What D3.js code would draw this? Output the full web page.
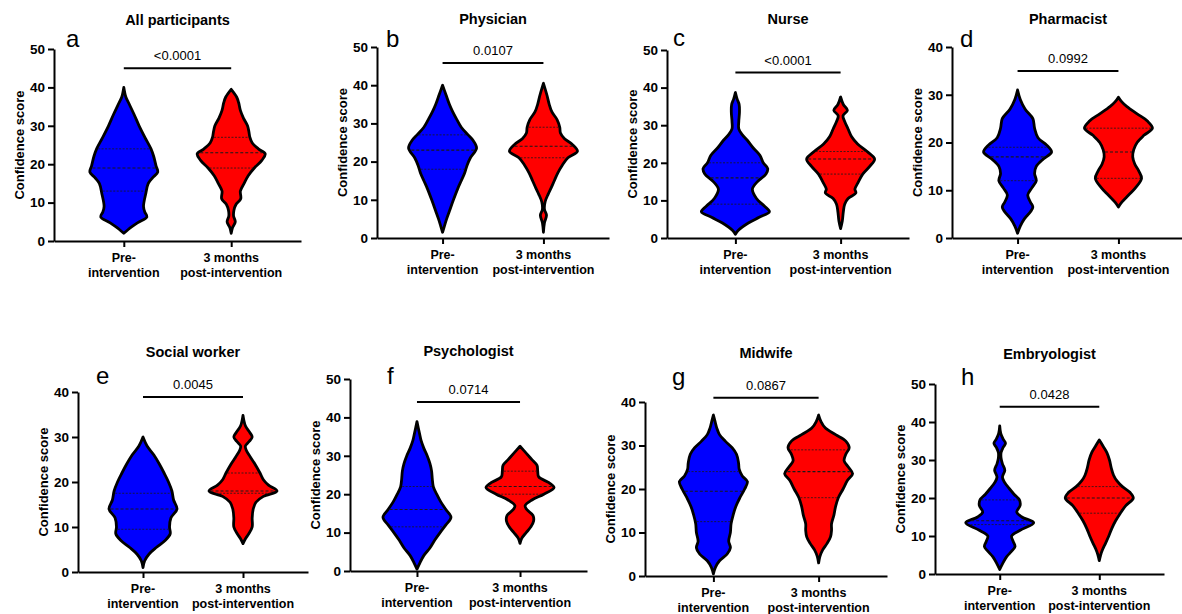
<!DOCTYPE html>
<html>
<head>
  <meta charset="utf-8">
  <title>Confidence score before and 3 months after the intervention</title>
  <script src="https://d3js.org/d3.v7.min.js"></script>
  <style>
    body {
      margin: 0;
      background: #fff;
    }

    svg text {
      font-family: Arial, "Liberation Sans", Helvetica, sans-serif;
      fill: #000;
    }

    .title { font-size: 14.5px; font-weight: bold; }
    .letter { font-size: 24px; }
    .pval { font-size: 13px; }
    .ylabel { font-size: 13px; font-weight: bold; }
    .cat { font-size: 12.5px; font-weight: bold; }

    .axis path, .axis line {
      stroke: #000;
      stroke-width: 2px;
    }

    .axis text {
      font-size: 13.5px;
      font-weight: bold;
    }
  </style>
</head>
<body>
  <svg id="chart" width="1182" height="614"></svg>

  <script type="text/javascript">
    /* Panel data */
    var panelTitles = ["All participants", "Physician", "Nurse", "Pharmacist",
                       "Social worker", "Psychologist", "Midwife", "Embryologist"];
    var panelLetters = ["a", "b", "c", "d", "e", "f", "g", "h"];
    var groups = ["Pre-intervention", "3 months post-intervention"];
    var groupLines = [["Pre-", "intervention"], ["3 months", "post-intervention"]];
    var pValues = ["<0.0001", "0.0107", "<0.0001", "0.0992",
                   "0.0045", "0.0714", "0.0867", "0.0428"];
    var yMaxima = [50, 50, 50, 40, 40, 50, 40, 50];
    var bracketLevels = [45, 45.8, 44, 35, 38.9, 44, 41, 44];

    // violin outlines: [score, relative density] from bottom tip to top tip
    var preProfiles = [
      [[2,0],[3,0.13],[4.7,0.4],[6.3,0.68],[7.5,0.62],[9,0.58],[12.5,0.65],[15,0.72],
       [16.5,0.85],[18,1.0],[19.5,0.95],[22,0.88],[24,0.8],[27,0.62],[30,0.45],
       [33,0.3],[36,0.14],[37.5,0.06],[40,0]],
      [[1.5,0],[3,0.05],[5,0.12],[7,0.2],[10,0.32],[13,0.45],[15,0.55],[17,0.65],
       [19,0.72],[21,0.82],[23.5,1.0],[25.5,0.9],[27,0.75],[29,0.55],[31,0.42],
       [33,0.3],[35,0.2],[37.5,0.1],[40,0]],
      [[1,0],[2,0.08],[4,0.38],[5.5,0.7],[7,1.0],[8.5,0.85],[10.5,0.62],[13,0.5],
       [15,0.65],[17,0.9],[18.5,0.95],[20,0.82],[22,0.72],[24,0.52],[26,0.35],
       [27.5,0.2],[29,0.1],[31,0.1],[33.5,0.12],[35.5,0.11],[37,0.05],[38.7,0]],
      [[1,0],[2.5,0.08],[4,0.2],[5.5,0.38],[6.5,0.45],[7.5,0.38],[9,0.3],[10.5,0.42],
       [12,0.55],[13.5,0.5],[15,0.55],[16.5,0.75],[18,1.0],[19.5,0.85],[21,0.6],
       [23,0.5],[25,0.45],[27,0.22],[29,0.08],[31,0]],
      [[1,0],[2.5,0.05],[4,0.18],[5.5,0.4],[7,0.65],[8.5,0.8],[10,0.78],[12,0.82],
       [14,1.0],[16,0.9],[18,0.85],[20,0.75],[22,0.62],[24,0.48],[26,0.32],
       [28,0.12],[30,0]],
      [[0.5,0],[2,0.08],[4,0.2],[6,0.38],[8,0.52],[10,0.68],[12,0.85],[14,1.0],
       [16,0.85],[18,0.7],[20,0.58],[22,0.48],[24,0.45],[26,0.43],[28,0.38],
       [30,0.3],[32,0.2],[34,0.12],[36,0.07],[38.9,0]],
      [[0.5,0],[2,0.06],[3.5,0.18],[5,0.4],[6.5,0.5],[8,0.45],[10,0.5],[12,0.52],
       [14,0.58],[16,0.66],[18,0.78],[20,0.92],[21.7,1.0],[23,0.85],[24.5,0.76],
       [26,0.74],[28,0.68],[29.5,0.55],[31,0.35],[32.5,0.18],[34,0.1],[35.5,0.05],[37,0]],
      [[1.2,0],[3,0.1],[4.5,0.2],[6,0.35],[7.2,0.45],[8.5,0.4],[10,0.35],[11.5,0.6],
       [13.5,1.0],[15,0.65],[16.3,0.5],[18,0.6],[19.5,0.58],[21,0.42],[22.5,0.28],
       [24,0.15],[25.5,0.08],[27.3,0.15],[29,0.08],[30.5,0.04],[32,0.04],[33.3,0.1],
       [34.4,0.17],[35.5,0.1],[37,0.03],[39,0]]
    ];

    var postProfiles = [
      [[2,0],[3.5,0.04],[5,0.12],[6.5,0.07],[8,0.08],[9.5,0.14],[11,0.28],[13,0.27],
       [15,0.38],[17,0.5],[19,0.68],[21,0.9],[22.7,1.0],[24,0.8],[25.5,0.62],
       [27,0.55],[28.5,0.52],[30,0.48],[32,0.36],[34,0.27],[36,0.22],[37.5,0.16],[39.5,0]],
      [[1.5,0],[4,0.03],[6,0.09],[7.5,0.03],[9.5,0.05],[11.5,0.14],[13,0.22],[15,0.32],
       [17,0.42],[19,0.55],[21,0.72],[22.7,1.0],[24.5,0.85],[26,0.62],[27.5,0.5],
       [29,0.48],[31,0.4],[33,0.25],[35,0.17],[37.5,0.1],[40.5,0]],
      [[2.5,0],[4.5,0.05],[7,0.08],[9,0.12],[10.5,0.22],[12,0.45],[13,0.42],[14.5,0.5],
       [17,0.65],[19,0.85],[21,1.0],[23,0.78],[25,0.5],[27,0.32],[29,0.22],[31,0.12],
       [32.5,0.07],[34,0.2],[35.5,0.08],[37.5,0]],
      [[6.5,0],[7.5,0.1],[9,0.3],[10.5,0.5],[12.5,0.68],[14,0.6],[15.5,0.48],[17,0.42],
       [18.5,0.45],[20,0.55],[21.5,0.75],[23,1.0],[24.5,0.85],[26,0.55],[27.5,0.25],
       [28.5,0.1],[29.5,0]],
      [[6.3,0],[7.5,0.08],[8.5,0.17],[10,0.27],[12,0.27],[14,0.3],[15.5,0.38],[16.8,0.6],
       [18,1.0],[19.3,0.75],[20.5,0.6],[22,0.5],[24,0.35],[25.5,0.22],[27,0.1],
       [28,0.07],[29,0.18],[30,0.27],[31,0.2],[32.5,0.07],[34.8,0]],
      [[7.2,0],[8.5,0.05],[10,0.18],[11.5,0.32],[13,0.4],[14.5,0.38],[16,0.2],[17,0.15],
       [18.5,0.35],[20,0.7],[21.7,1.0],[23,0.85],[24.5,0.55],[26,0.52],[27.5,0.5],
       [29,0.35],[30.5,0.2],[32.5,0]],
      [[3,0],[4.5,0.04],[6,0.12],[7.5,0.25],[9,0.35],[10.5,0.38],[12,0.38],[14,0.45],
       [16,0.5],[18,0.58],[20,0.72],[22,0.85],[23.5,1.0],[25,0.88],[26.5,0.75],
       [28,0.8],[29.5,0.9],[31,0.8],[32.5,0.5],[34,0.2],[35.5,0.07],[37,0]],
      [[3.5,0],[5,0.04],[6.5,0.1],[8,0.18],[10,0.28],[12,0.37],[14,0.48],[16,0.62],
       [18,0.78],[20,1.0],[21.5,0.9],[23,0.68],[24.5,0.52],[26,0.42],[28,0.35],
       [30,0.3],[32,0.22],[33.8,0.1],[35.3,0]]
    ];

    // [lower quartile, median, upper quartile]
    var preQuartiles = [[13,19,24],[18,23,27],[9,16,20],[12,17,19],
                        [9.5,14,17.5],[11.5,16,22],[12.5,19.5,24],[13,14,19.5]];
    var postQuartiles = [[19,23,27],[21,24,29],[17,21,23],[12.5,18,23],
                         [17.5,18,22],[20,22,26],[18,24,29],[16,20,23]];

    /* Page layout: axis box for each panel plus title / letter positions */
    var boxes = [
      {x0: 54,  x1: 301,  top: 49,  bottom: 241, ty: 25,  lx: 66,  ly: 47},
      {x0: 377, x1: 609,  top: 47,  bottom: 238, ty: 24,  lx: 386, ly: 47},
      {x0: 667, x1: 909,  top: 50,  bottom: 238, ty: 24,  lx: 673, ly: 46},
      {x0: 952, x1: 1184, top: 47,  bottom: 238, ty: 24,  lx: 960, ly: 47},
      {x0: 78,  x1: 308,  top: 392, bottom: 572, ty: 357, lx: 96,  ly: 384},
      {x0: 350, x1: 587,  top: 379, bottom: 571, ty: 356, lx: 387, ly: 384},
      {x0: 645, x1: 887,  top: 402, bottom: 576, ty: 358, lx: 672, ly: 385},
      {x0: 935, x1: 1164, top: 384, bottom: 574, ty: 359, lx: 961, ly: 385}
    ];

    var fills = ["#0000ff", "#ff0000"];
    var svg = d3.select("#chart");

    // half width of a violin at relative density 1
    var w = d3.scaleLinear().domain([0, 1]).range([0, 34]);

    function widthAt(profile, v) {
      for (var i = 1; i < profile.length; i++) {
        if (profile[i][0] >= v) {
          var a = profile[i - 1], b = profile[i];
          var t = (v - a[0]) / (b[0] - a[0]);
          return a[1] + t * (b[1] - a[1]);
        }
      }
      return 0;
    }

    panelTitles.forEach(function(title, i) {
      var box = boxes[i];
      var g = svg.append("g");

      var y = d3.scaleLinear()
                .domain([0, yMaxima[i]])
                .range([box.bottom, box.top]);

      var x = d3.scalePoint()
                .domain(groups)
                .range([box.x0, box.x1])
                .padding(0.65);

      /* Axes */
      g.append("g")
       .attr("class", "axis")
       .attr("transform", "translate(" + box.x0 + ",0)")
       .call(d3.axisLeft(y)
               .tickValues(d3.range(0, yMaxima[i] + 1, 10))
               .tickSize(6)
               .tickSizeOuter(0)
               .tickPadding(3));

      g.append("g")
       .attr("class", "axis")
       .attr("transform", "translate(0," + box.bottom + ")")
       .call(d3.axisBottom(x)
               .tickSize(6)
               .tickSizeOuter(0)
               .tickFormat(""));

      /* Category labels, two lines each */
      groups.forEach(function(grp, j) {
        var t = g.append("text")
                 .attr("class", "cat")
                 .attr("text-anchor", "middle")
                 .attr("x", x(grp))
                 .attr("y", box.bottom + 21);
        t.append("tspan").attr("x", x(grp)).text(groupLines[j][0]);
        t.append("tspan").attr("x", x(grp)).attr("dy", 14.5).text(groupLines[j][1]);
      });

      /* Violins */
      [preProfiles[i], postProfiles[i]].forEach(function(profile, j) {
        var cx = x(groups[j]);
        var area = d3.area()
                     .curve(d3.curveCatmullRom.alpha(0.5))
                     .y(function(d) { return y(d[0]); })
                     .x0(function(d) { return cx - w(d[1]); })
                     .x1(function(d) { return cx + w(d[1]); });

        g.append("path")
         .datum(profile)
         .attr("d", area)
         .style("fill", fills[j])
         .style("stroke", "#000")
         .style("stroke-width", 2.8)
         .style("stroke-linejoin", "round");

        var q = j === 0 ? preQuartiles[i] : postQuartiles[i];
        q.forEach(function(v, k) {
          var hw = Math.max(w(widthAt(profile, v)) - 1.5, 0);
          g.append("line")
           .attr("x1", cx - hw)
           .attr("x2", cx + hw)
           .attr("y1", y(v))
           .attr("y2", y(v))
           .style("stroke", "#1a1a1a")
           .style("stroke-width", k === 1 ? 1.1 : 0.8)
           .style("stroke-dasharray", k === 1 ? "3,2" : "2,1.5");
        });
      });

      /* Significance bracket */
      var by = y(bracketLevels[i]);
      g.append("line")
       .attr("x1", x(groups[0]))
       .attr("x2", x(groups[1]))
       .attr("y1", by)
       .attr("y2", by)
       .style("stroke", "#000")
       .style("stroke-width", 2);

      g.append("text")
       .attr("class", "pval")
       .attr("text-anchor", "middle")
       .attr("x", (x(groups[0]) + x(groups[1])) / 2)
       .attr("y", by - 8)
       .text(pValues[i]);

      /* Titles, letters, y label */
      g.append("text")
       .attr("class", "title")
       .attr("text-anchor", "middle")
       .attr("x", (box.x0 + box.x1) / 2)
       .attr("y", box.ty)
       .text(title);

      g.append("text")
       .attr("class", "letter")
       .attr("x", box.lx)
       .attr("y", box.ly)
       .text(panelLetters[i]);

      g.append("text")
       .attr("class", "ylabel")
       .attr("text-anchor", "middle")
       .attr("transform", "translate(" + (box.x0 - 35) + "," +
             ((box.top + box.bottom) / 2) + ") rotate(-90)")
       .attr("dy", "0.35em")
       .text("Confidence score");
    });
  </script>
</body>
</html>
